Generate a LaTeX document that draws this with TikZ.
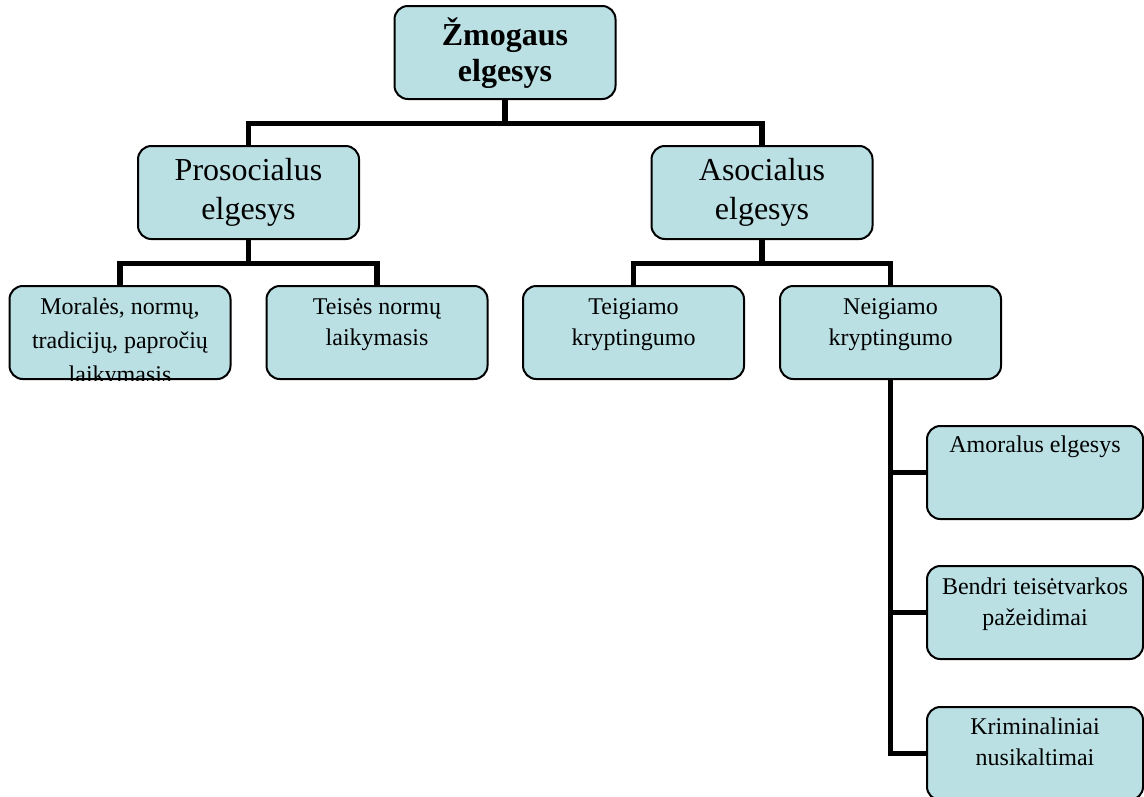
\documentclass[tikz,border=0pt]{standalone}
\usepackage{fontspec}
\setmainfont{Liberation Serif}
\definecolor{boxfill}{RGB}{186,224,228}
\tikzset{
  box/.style={draw, line width=1.5pt, fill=boxfill, rounded corners=10pt,
    minimum width=165.75pt, minimum height=69.75pt, inner sep=0pt},
  sidebox/.style={box, minimum width=162pt},
  link/.style={line width=4pt},
  toptext/.style={text width=160pt, align=flush center, anchor=base, inner sep=0pt},
  bigtext/.style={toptext, font=\fontsize{24}{29.25}\selectfont},
  smalltext/.style={toptext, font=\fontsize{18}{23}\selectfont},
}
\begin{document}
\begin{tikzpicture}[x=0.75pt, y=-0.75pt]
    \useasboundingbox (0,0) rectangle (1144,796);
    % boxes
    \node[box] (root) at (505,52.5) {};
    \node[box] (pro) at (248.5,192.5) {};
    \node[box] (aso) at (762,192.5) {};
    \node[box] (mor) at (120,332.5) {};
    \node[box] (tei) at (377,332.5) {};
    \node[box] (teig) at (633.5,332.5) {};
    \node[box] (neig) at (890.5,332.5) {};
    \node[sidebox] (amo) at (1035,472.5) {};
    \node[sidebox] (ben) at (1035,612.5) {};
    \node[sidebox] (kri) at (1035,753.5) {};
    % texts
    \node[toptext, font=\bfseries\fontsize{24}{27}\selectfont] (root-t)
        at ([yshift=-30pt]root.north) {Žmogaus\\elgesys};
    \node[bigtext] (pro-t) at ([yshift=-26.25pt]pro.north) {Prosocialus\\elgesys};
    \node[bigtext] (aso-t) at ([yshift=-26.25pt]aso.north) {Asocialus\\elgesys};
    \begin{scope}
        \clip[rounded corners=10pt] (mor.south west) rectangle (mor.north east);
        \node[smalltext, font=\fontsize{18}{25.5}\selectfont] (mor-t)
            at ([yshift=-22.25pt]mor.north)
            {Moralės, normų,\\tradicijų, papročių\\laikymasis};
    \end{scope}
    \node[smalltext] (tei-t) at ([yshift=-22.25pt]tei.north) {Teisės normų\\laikymasis};
    \node[smalltext] (teig-t) at ([yshift=-22.25pt]teig.north) {Teigiamo\\kryptingumo};
    \node[smalltext] (neig-t) at ([yshift=-22.25pt]neig.north) {Neigiamo\\kryptingumo};
    \node[smalltext] (amo-t) at ([yshift=-20.75pt]amo.north) {Amoralus elgesys};
    \node[smalltext] (ben-t) at ([yshift=-22.25pt]ben.north) {Bendri teisėtvarkos\\pažeidimai};
    \node[smalltext] (kri-t) at ([yshift=-21.5pt]kri.north) {Kriminaliniai\\nusikaltimai};
    % connectors
    \draw[link] (root.south) -- ++(0,23.5) -| (pro.north);
    \draw[link] (root.south) -- ++(0,23.5) -| (aso.north);
    \draw[link] (pro.south) -- ++(0,23.5) -| (mor.north);
    \draw[link] (pro.south) -- ++(0,23.5) -| (tei.north);
    \draw[link] (aso.south) -- ++(0,23.5) -| (teig.north);
    \draw[link] (aso.south) -- ++(0,23.5) -| (neig.north);
    \draw[link] (neig.south) |- (amo.west);
    \draw[link] (neig.south) |- (ben.west);
    \draw[link] (neig.south) |- (kri.west);
\end{tikzpicture}
\end{document}
